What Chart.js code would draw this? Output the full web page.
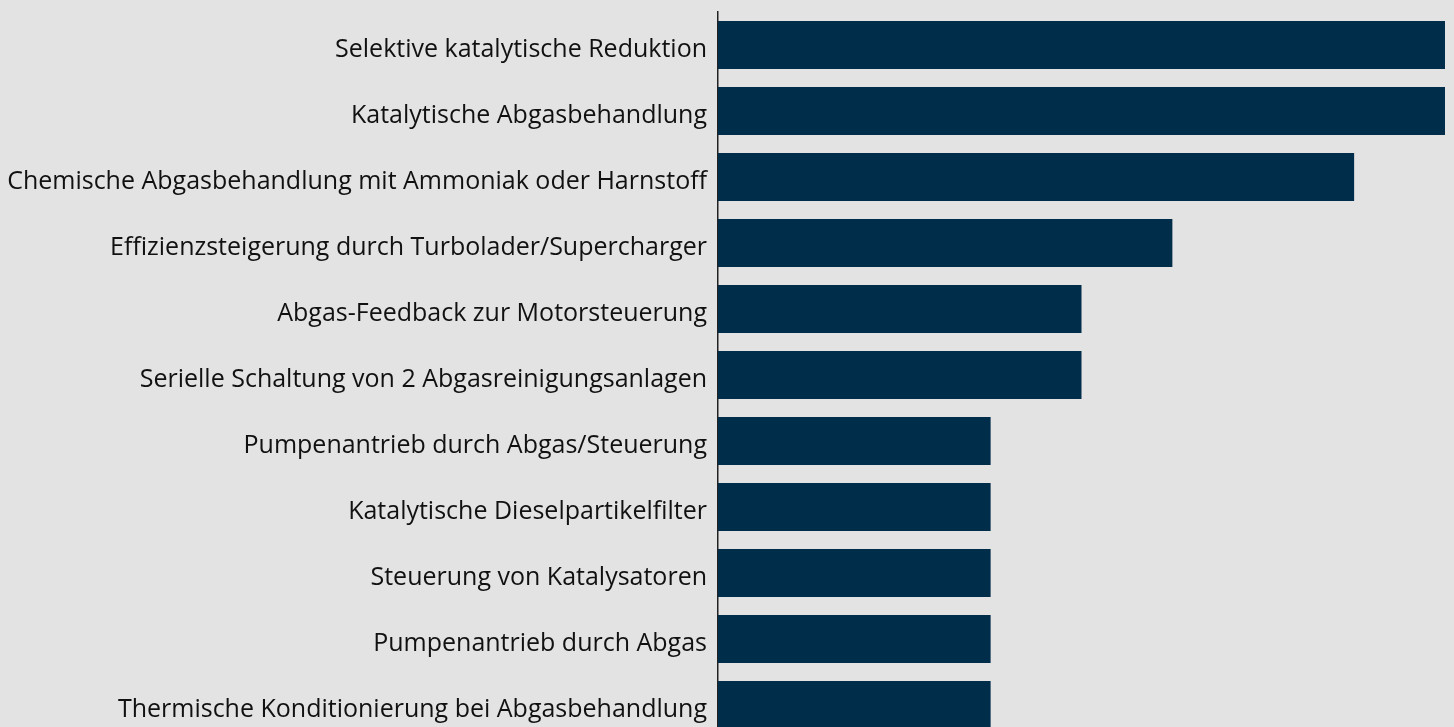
<!DOCTYPE html>
<html>
<head>
<meta charset="utf-8">
<script src="https://cdn.jsdelivr.net/npm/chart.js@4"></script>
<style>
  html, body { margin: 0; padding: 0; background: #e3e3e3; overflow: hidden; }
  #wrap { position: relative; width: 1454px; height: 738px; }
</style>
</head>
<body>
<div id="wrap"><canvas id="my-chart"></canvas></div>
<script>
const labels = [
  'Selektive katalytische Reduktion',
  'Katalytische Abgasbehandlung',
  'Chemische Abgasbehandlung mit Ammoniak oder Harnstoff',
  'Effizienzsteigerung durch Turbolader/Supercharger',
  'Abgas-Feedback zur Motorsteuerung',
  'Serielle Schaltung von 2 Abgasreinigungsanlagen',
  'Pumpenantrieb durch Abgas/Steuerung',
  'Katalytische Dieselpartikelfilter',
  'Steuerung von Katalysatoren',
  'Pumpenantrieb durch Abgas',
  'Thermische Konditionierung bei Abgasbehandlung'
];
const counts = [8, 8, 7, 5, 4, 4, 3, 3, 3, 3, 3];

const ctx = document.getElementById('my-chart');
const myChart = new Chart(ctx, {
  type: 'bar',
  data: {
    labels: labels,
    datasets: [
      {
        data: counts,
        backgroundColor: '#002d4a',
        barPercentage: 48 / 66,
        categoryPercentage: 1
      }
    ]
  },
  options: {
    indexAxis: 'y',
    responsive: true,
    maintainAspectRatio: false,
    animation: false,
    layout: { padding: { top: 12, right: 9, bottom: 0, left: 0 } },
    plugins: {
      legend: { display: false },
      tooltip: { enabled: false }
    },
    scales: {
      x: { display: false, min: 0, max: 8 },
      y: {
        grid: { display: false, drawTicks: false },
        border: { display: true, color: '#222222', width: 1.5 },
        ticks: {
          color: '#111111',
          padding: 11,
          labelOffset: 5,
          font: { family: 'Open Sans', size: 25 }
        },
        afterFit: function (scale) {
          scale.width = 718;
          scale.paddingTop = 0;
          scale.paddingBottom = 0;
        }
      }
    }
  }
});
</script>
</body>
</html>
